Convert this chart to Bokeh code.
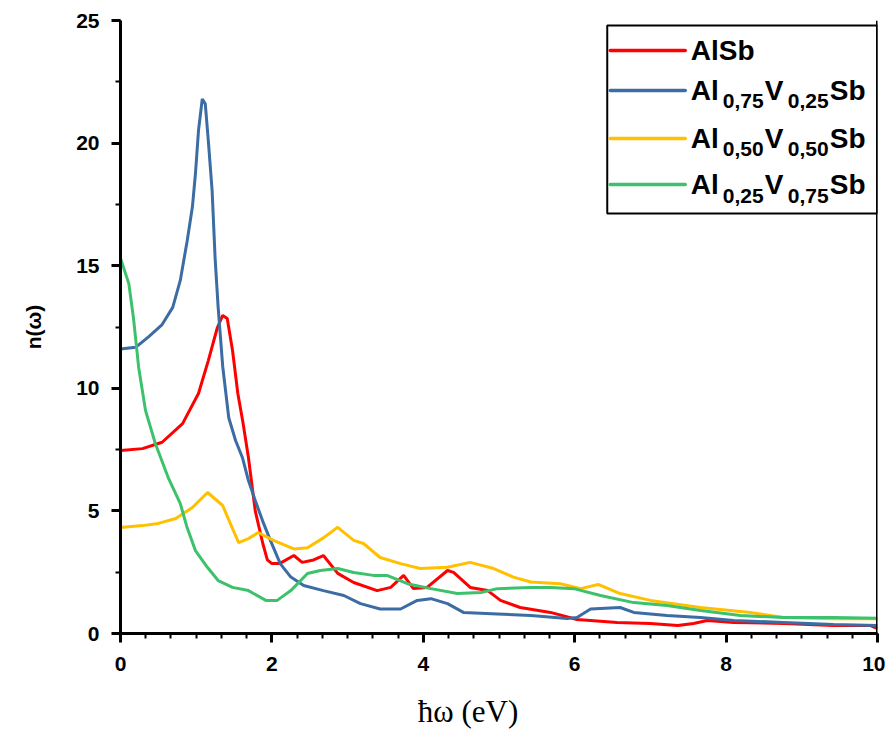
from bokeh.plotting import figure
from bokeh.models import Range1d, Span, BoxAnnotation, Label, SingleIntervalTicker
from bokeh.embed import file_html
from bokeh.resources import INLINE

# ---- data ----
x_alsb = [0, 0.29, 0.55, 0.82, 1.03, 1.16, 1.28, 1.35, 1.41, 1.48, 1.55, 1.62, 1.69, 1.78, 1.88, 1.94,
          2.0, 2.1, 2.29, 2.40, 2.55, 2.68, 2.87, 3.08, 3.39, 3.57, 3.74, 3.87, 4.05, 4.32, 4.4, 4.62,
          4.85, 5.02, 5.28, 5.68, 6.03, 6.56, 7.0, 7.36, 7.57, 7.75, 8.1, 8.76, 9.42, 9.9, 10]
y_alsb = [7.46, 7.54, 7.8, 8.56, 9.79, 11.13, 12.48, 12.97, 12.85, 11.54, 9.79, 8.56, 7.18, 5.0, 3.67,
          3.0, 2.85, 2.85, 3.18, 2.9, 3.0, 3.18, 2.45, 2.08, 1.75, 1.88, 2.37, 1.83, 1.88, 2.57, 2.49,
          1.88, 1.75, 1.35, 1.06, 0.86, 0.57, 0.45, 0.41, 0.33, 0.41, 0.53, 0.45, 0.41, 0.33, 0.33, 0.2]

x_v25 = [0, 0.2, 0.37, 0.55, 0.69, 0.79, 0.88, 0.95, 0.99, 1.03, 1.08, 1.12, 1.16, 1.21, 1.25, 1.29,
         1.35, 1.43, 1.52, 1.61, 1.69, 1.78, 1.89, 1.98, 2.11, 2.25, 2.42, 2.68, 2.95, 3.17, 3.43, 3.7,
         3.92, 4.1, 4.32, 4.53, 4.98, 5.42, 5.9, 6.03, 6.21, 6.6, 6.78, 7.22, 7.66, 8.1, 8.76, 9.42, 10]
y_v25 = [11.6, 11.67, 12.1, 12.6, 13.3, 14.4, 16.0, 17.4, 18.75, 20.5, 21.8, 21.6, 20.1, 18.07, 15.3,
         13.3, 10.9, 8.8, 7.87, 7.18, 6.24, 5.42, 4.49, 3.8, 2.85, 2.3, 1.96, 1.75, 1.55, 1.22, 1.0, 1.0,
         1.35, 1.42, 1.22, 0.86, 0.8, 0.73, 0.61, 0.65, 1.0, 1.06, 0.86, 0.73, 0.65, 0.53, 0.45, 0.37, 0.33]

x_v50 = [0, 0.29, 0.5, 0.73, 0.95, 1.15, 1.35, 1.45, 1.56, 1.69, 1.82, 2.02, 2.29, 2.47, 2.68, 2.87,
         3.08, 3.21, 3.43, 3.7, 3.96, 4.32, 4.62, 4.93, 5.19, 5.42, 5.81, 6.08, 6.31, 6.6, 7.0, 7.66,
         8.32, 8.76, 9.42, 10]
y_v50 = [4.32, 4.4, 4.49, 4.69, 5.14, 5.75, 5.22, 4.49, 3.71, 3.87, 4.12, 3.8, 3.45, 3.5, 3.9, 4.33,
         3.8, 3.67, 3.1, 2.85, 2.65, 2.7, 2.9, 2.65, 2.3, 2.1, 2.03, 1.83, 2.0, 1.63, 1.35, 1.06,
         0.86, 0.65, 0.6, 0.6]

x_v75 = [0, 0.11, 0.17, 0.24, 0.33, 0.46, 0.63, 0.79, 0.88, 0.99, 1.15, 1.29, 1.48, 1.69, 1.92, 2.07,
         2.25, 2.47, 2.64, 2.87, 3.08, 3.34, 3.52, 3.79, 4.1, 4.45, 4.76, 4.98, 5.42, 5.68, 5.99, 6.34,
         6.78, 7.22, 7.66, 8.19, 8.76, 9.42, 10]
y_v75 = [15.3, 14.27, 12.9, 10.85, 9.1, 7.75, 6.36, 5.3, 4.32, 3.38, 2.69, 2.16, 1.88, 1.75, 1.35, 1.35,
         1.75, 2.45, 2.57, 2.65, 2.49, 2.37, 2.37, 2.03, 1.83, 1.63, 1.67, 1.83, 1.88, 1.88, 1.83, 1.55,
         1.26, 1.14, 0.94, 0.73, 0.65, 0.65, 0.62]

# legend label pieces: (text, is_subscript)
legend_labels = [
    [("AlSb", False)],
    [("Al", False), ("0,75", True), ("V", False), ("0,25", True), ("Sb", False)],
    [("Al", False), ("0,50", True), ("V", False), ("0,50", True), ("Sb", False)],
    [("Al", False), ("0,25", True), ("V", False), ("0,75", True), ("Sb", False)],
]
colors = ["#FF0000", "#3B6CA3", "#FFC000", "#3DC16C"]
series = [(x_alsb, y_alsb), (x_v25, y_v25), (x_v50, y_v50), (x_v75, y_v75)]

FONT = "Liberation Sans"

p = figure(width=885, height=733, x_range=Range1d(0, 10), y_range=Range1d(0, 25),
           output_backend="svg", toolbar_location=None,
           min_border_left=120, min_border_right=8, min_border_top=20, min_border_bottom=100)
p.xgrid.visible = False
p.ygrid.visible = False
p.outline_line_color = None
p.background_fill_color = "white"

p.xaxis.ticker = SingleIntervalTicker(interval=2, num_minor_ticks=6)
p.yaxis.ticker = SingleIntervalTicker(interval=5, num_minor_ticks=2)
for ax in (p.xaxis, p.yaxis):
    ax.axis_line_width = 3
    ax.axis_line_color = "black"
    ax.major_tick_line_width = 3
    ax.major_tick_line_color = "black"
    ax.minor_tick_line_width = 2
    ax.minor_tick_line_color = "black"
    ax.major_tick_in = 0
    ax.major_tick_out = 9
    ax.minor_tick_in = 0
    ax.minor_tick_out = 5
    ax.major_label_text_font = FONT
    ax.major_label_text_font_style = "bold"
    ax.major_label_text_color = "black"
    ax.major_label_text_font_size = "21px"
p.xaxis.major_label_standoff = 14
p.yaxis.major_label_standoff = 12
p.yaxis.axis_label = "n(ω)"
p.yaxis.axis_label_text_font = FONT
p.yaxis.axis_label_text_font_style = "bold"
p.yaxis.axis_label_text_font_size = "21px"
p.yaxis.axis_label_text_color = "black"
p.yaxis.axis_label_standoff = 28

p.xaxis.axis_label = "ħω (eV)" + "\u00a0" * 8
p.xaxis.axis_label_text_font = "Liberation Serif"
p.xaxis.axis_label_text_font_size = "31px"
p.xaxis.axis_label_text_font_style = "normal"
p.xaxis.axis_label_text_color = "black"
p.xaxis.axis_label_standoff = 20

p.add_layout(Span(location=10, dimension="height", line_color="black", line_width=3))

for (xs, ys), c in zip(series, colors):
    p.line(xs, ys, line_color=c, line_width=3)

# legend box
p.add_layout(BoxAnnotation(left=6.43, right=10, top=24.8, bottom=17.13, fill_color="white",
                           fill_alpha=1, line_color="black", line_alpha=1, line_width=2,
                           level="underlay"))
row_y = [23.78, 22.15, 20.19, 18.31]
offsets = [-2, 30, 72, 95, 137]
for ry, c, parts in zip(row_y, colors, legend_labels):
    p.segment(x0=[6.47], y0=[ry], x1=[7.46], y1=[ry], line_color=c, line_width=3.5, line_cap="round")
    for (txt, sub), off in zip(parts, offsets):
        p.add_layout(Label(x=7.56, y=ry, x_offset=off, y_offset=-11 if sub else 0, text=txt,
                           text_font=FONT, text_font_style="bold",
                           text_font_size="21px" if sub else "28px",
                           text_baseline="middle", text_color="black"))

open("out.html", "w").write(file_html(p, INLINE))
